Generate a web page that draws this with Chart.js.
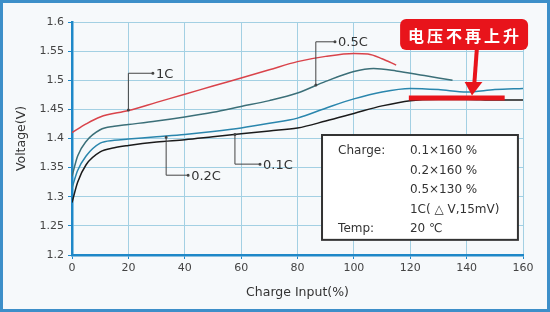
<!DOCTYPE html>
<html>
<head>
<meta charset="utf-8">
<script src="https://cdn.jsdelivr.net/npm/chart.js@4.4.1/dist/chart.umd.min.js"></script>
<style>
  html, body { margin: 0; padding: 0; background: #f6f9fb; }
  #wrap { width: 550px; height: 312px; }
</style>
</head>
<body>
<div id="wrap"><canvas id="myChart" width="550" height="312"></canvas></div>
<script>
// valores (Charge Input %, Voltage V)
const xTicks = [0, 20, 40, 60, 80, 100, 120, 140, 160];
const yTicks = [1.2, 1.25, 1.3, 1.35, 1.4, 1.45, 1.5, 1.55, 1.6];

const carga1C = [0, 5, 10, 20, 30, 40, 50, 60, 70, 80, 90, 100, 105, 110, 115];
const volt1C = [1.41, 1.425, 1.437, 1.448, 1.462, 1.476, 1.49, 1.504, 1.518, 1.532, 1.541, 1.546, 1.545, 1.537, 1.526];

const carga05C = [0, 2, 5, 10, 15, 20, 30, 40, 50, 60, 70, 80, 90, 100, 107, 115, 125, 135];
const volt05C = [1.335, 1.37, 1.395, 1.415, 1.421, 1.424, 1.43, 1.437, 1.445, 1.455, 1.465, 1.478, 1.498, 1.515, 1.52, 1.516, 1.508, 1.5];

const carga02C = [0, 2, 5, 10, 15, 20, 30, 40, 50, 60, 70, 80, 90, 100, 110, 120, 130, 140, 150, 160];
const volt02C = [1.315, 1.345, 1.37, 1.392, 1.397, 1.399, 1.403, 1.407, 1.412, 1.418, 1.426, 1.435, 1.452, 1.468, 1.48, 1.486, 1.484, 1.48, 1.484, 1.486];

const carga01C = [0, 2, 5, 10, 15, 20, 30, 40, 50, 60, 70, 80, 90, 100, 110, 120, 130, 140, 150, 160];
const volt01C = [1.29, 1.325, 1.355, 1.377, 1.384, 1.388, 1.394, 1.398, 1.403, 1.408, 1.413, 1.418, 1.43, 1.443, 1.456, 1.465, 1.467, 1.467, 1.466, 1.466];

const series = [
  { label: "1C", x: carga1C, y: volt1C, color: "#d9434a" },
  { label: "0.5C", x: carga05C, y: volt05C, color: "#3b6f78" },
  { label: "0.2C", x: carga02C, y: volt02C, color: "#2a86ad" },
  { label: "0.1C", x: carga01C, y: volt01C, color: "#1b1b1b" },
];

// textos
const etiquetas = [
  { text: "1C", from: [20, 1.449], corner: [20, 1.512], to: [28.7, 1.512] },
  { text: "0.5C", from: [86.5, 1.492], corner: [86.5, 1.566], to: [93.3, 1.566] },
  { text: "0.2C", from: [33.4, 1.402], corner: [33.4, 1.337], to: [41.2, 1.337] },
  { text: "0.1C", from: [57.8, 1.407], corner: [57.8, 1.356], to: [66.7, 1.356] },
];
const infoIzq = ["Charge:", "", "", "", "Temp:"];
const infoDer = ["0.1×160 %", "0.2×160 %", "0.5×130 %", "1C( △ V,15mV)", "20 ℃"];
const aviso = "电压不再上升";

const azul = "#1e88c8";

const pintarExtras = {
  id: "extras",
  beforeDraw(chart) {
    const c = chart.ctx;
    c.save();
    c.fillStyle = "#f6f9fb";
    c.fillRect(0, 0, chart.width, chart.height);
    c.strokeStyle = "#3d8fc9";
    c.lineWidth = 3;
    c.strokeRect(1.5, 1.5, chart.width - 3, chart.height - 3);
    c.restore();
  },
  afterDraw(chart) {
    const c = chart.ctx;
    const xs = chart.scales.x;
    const ys = chart.scales.y;
    const px = (v) => xs.getPixelForValue(v);
    const py = (v) => ys.getPixelForValue(v);
    c.save();

    // lineas guia
    c.strokeStyle = "#444";
    c.fillStyle = "#444";
    c.lineWidth = 1;
    c.font = "13px 'DejaVu Sans'";
    c.textBaseline = "middle";
    etiquetas.forEach((e) => {
      c.beginPath();
      c.moveTo(px(e.from[0]), py(e.from[1]));
      c.lineTo(px(e.corner[0]), py(e.corner[1]));
      c.lineTo(px(e.to[0]), py(e.to[1]));
      c.stroke();
      c.beginPath();
      c.arc(px(e.from[0]), py(e.from[1]), 1.5, 0, Math.PI * 2);
      c.arc(px(e.to[0]), py(e.to[1]), 1.5, 0, Math.PI * 2);
      c.fill();
      c.fillStyle = "#333";
      c.fillText(e.text, px(e.to[0]) + 3, py(e.to[1]) + 1);
      c.fillStyle = "#444";
    });

    // cuadro de info
    const bx0 = px(88.7), bx1 = px(158.2), by0 = py(1.406), by1 = py(1.226);
    c.fillStyle = "#ffffff";
    c.fillRect(bx0, by0, bx1 - bx0, by1 - by0);
    c.strokeStyle = "#333";
    c.lineWidth = 2;
    c.strokeRect(bx0, by0, bx1 - bx0, by1 - by0);
    c.fillStyle = "#333";
    c.font = "12px 'DejaVu Sans'";
    infoIzq.forEach((t, i) => {
      c.fillText(t, px(94.4), by0 + 16 + i * 19.5);
    });
    infoDer.forEach((t, i) => {
      c.fillText(t, px(119.9), by0 + 16 + i * 19.5);
    });

    // barra roja
    c.strokeStyle = "#e8141b";
    c.lineWidth = 5;
    c.beginPath();
    c.moveTo(px(119.5), py(1.4695));
    c.lineTo(px(153.5), py(1.4695));
    c.stroke();

    // flecha
    c.lineWidth = 4;
    c.beginPath();
    c.moveTo(px(143.6), py(1.552));
    c.lineTo(px(142.7), py(1.492));
    c.stroke();
    c.fillStyle = "#e8141b";
    c.beginPath();
    c.moveTo(px(141.9), py(1.474));
    c.lineTo(px(139.3), py(1.497));
    c.lineTo(px(145.6), py(1.497));
    c.closePath();
    c.fill();

    // globo rojo
    const rx0 = px(116.4), rx1 = px(161.8), ry0 = py(1.605), ry1 = py(1.552);
    c.beginPath();
    c.roundRect(rx0, ry0, rx1 - rx0, ry1 - ry0, 6);
    c.fill();
    c.fillStyle = "#ffffff";
    c.font = "bold 16px 'Noto Sans CJK SC'";
    c.textAlign = "center";
    c.letterSpacing = "3px";
    c.fillText(aviso, (rx0 + rx1) / 2 + 1, (ry0 + ry1) / 2 + 1);
    c.restore();
  },
};

const ctx = document.getElementById("myChart");

new Chart(ctx, {
  type: "line",
  data: {
    datasets: series.map((s) => ({
      label: s.label,
      data: s.x.map((v, i) => ({ x: v, y: s.y[i] })),
      borderColor: s.color,
      borderWidth: 1.5,
      pointRadius: 0,
      fill: false,
      cubicInterpolationMode: "monotone",
    })),
  },
  options: {
    responsive: false,
    animation: false,
    layout: { padding: { left: 0, right: 27, top: 22, bottom: 0 } },
    plugins: { legend: { display: false }, tooltip: { enabled: false } },
    scales: {
      x: {
        type: "linear",
        min: 0,
        max: 160,
        afterFit: (s) => { s.height = 57; },
        afterBuildTicks: (s) => { s.ticks = xTicks.map((v) => ({ value: v })); },
        border: { color: azul, width: 2.5 },
        grid: { color: "#a3d0e3", lineWidth: 1, tickLength: 4, tickColor: azul },
        ticks: { color: "#444", font: { family: "DejaVu Sans", size: 11 }, padding: 3, maxRotation: 0 },
        title: { display: true, text: "Charge Input(%)", color: "#333", font: { family: "DejaVu Sans", size: 12.5 }, padding: { top: 0, bottom: 12 } },
      },
      y: {
        min: 1.2,
        max: 1.6,
        afterFit: (s) => { s.width = 72; },
        afterBuildTicks: (s) => { s.ticks = yTicks.map((v) => ({ value: v })); },
        border: { color: azul, width: 2.5 },
        grid: { color: "#a3d0e3", lineWidth: 1, tickLength: 4, tickColor: azul },
        ticks: { color: "#444", font: { family: "DejaVu Sans", size: 11 }, padding: 4, callback: (v) => String(+v.toFixed(2)) },
        title: { display: true, text: "Voltage(V)", color: "#333", font: { family: "DejaVu Sans", size: 12.5 }, padding: { top: 14, bottom: 0 } },
      },
    },
  },
  plugins: [pintarExtras],
});
</script>
</body>
</html>
